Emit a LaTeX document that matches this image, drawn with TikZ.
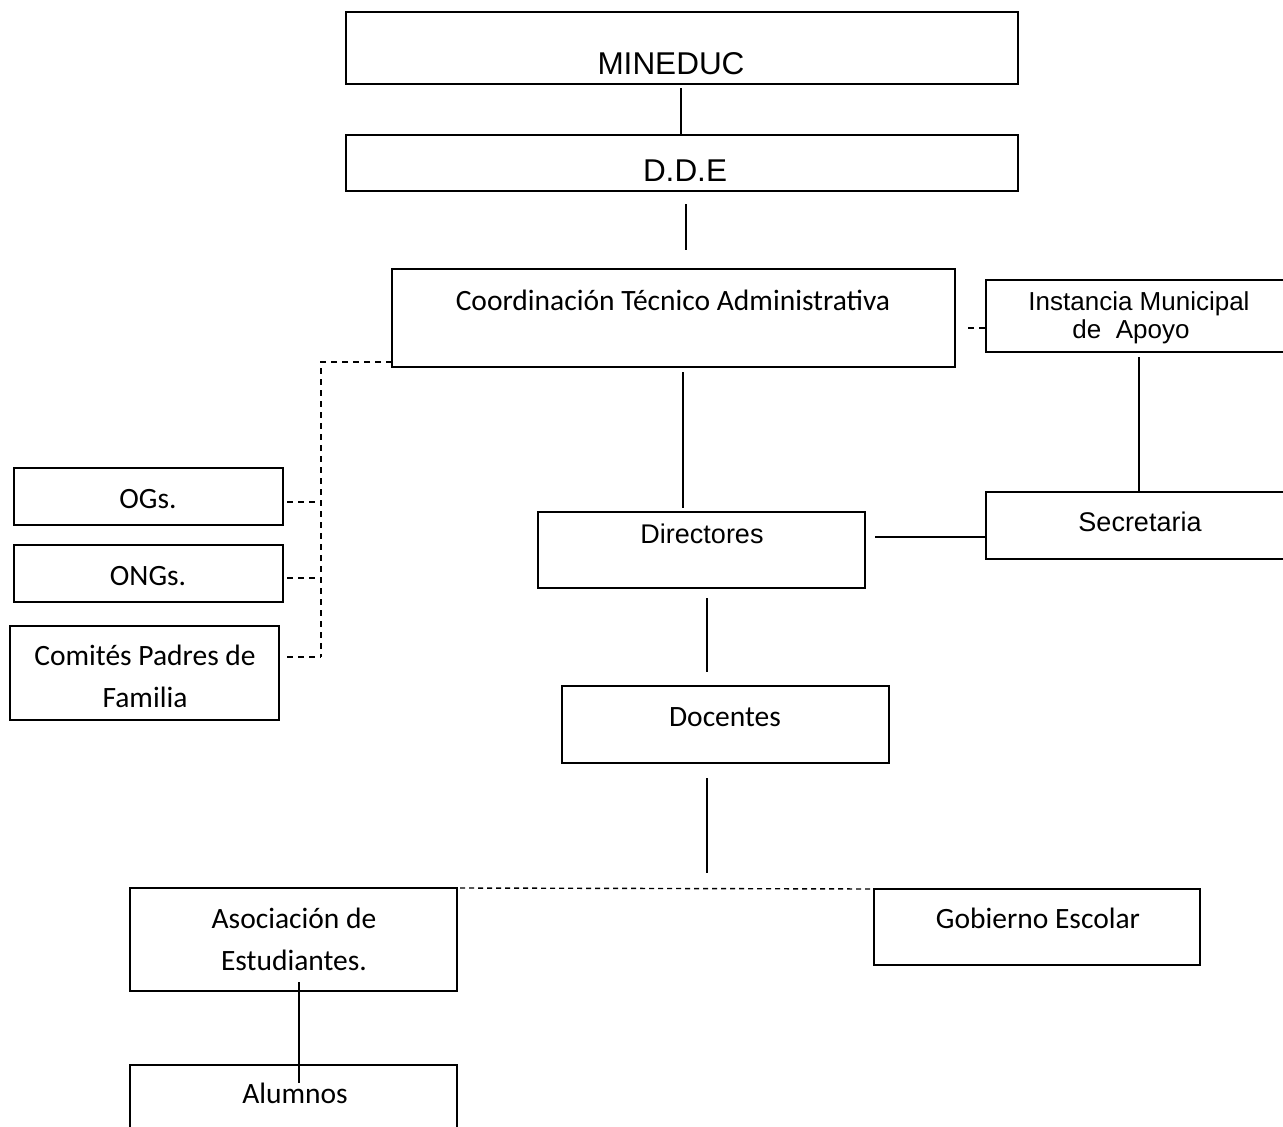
\documentclass[tikz,border=0pt]{standalone}
\usepackage{fontspec}
\setmainfont{Carlito}
\newfontfamily\arialfam{Liberation Sans}
\newcommand\ftbig{\arialfam\fontsize{31.5}{36}\selectfont}
\newcommand\ftar{\arialfam\fontsize{27}{30}\selectfont}
\newcommand\ftarb{\arialfam\fontsize{26}{30}\selectfont}
\newcommand\ftcal{\fontsize{29.5}{32}\selectfont}
\begin{document}
\begin{tikzpicture}[x=1pt,y=-1pt,
  box/.style={draw,line width=1.9pt,rectangle,outer sep=0pt,inner sep=0pt,anchor=north west},
  txt/.style={anchor=base,inner sep=0pt,outer sep=0pt},
  conn/.style={line width=1.4pt},
  dconn/.style={line width=1.4pt,dash pattern=on 6pt off 5pt},
  dconnb/.style={line width=1.4pt,dash pattern=on 5pt off 4pt}]
\useasboundingbox (0,0) rectangle (1283,1127);
\fill[white] (0,0) rectangle (1283,1127);
% boxes
\node[box,minimum width=672pt,minimum height=72pt] (mineduc) at (346,12) {};
\node[box,minimum width=672pt,minimum height=56pt] (dde) at (346,135) {};
\node[box,minimum width=563pt,minimum height=98pt] (coord) at (392,269) {};
\node[box,minimum width=310pt,minimum height=72pt] (inst) at (986,280) {};
\node[box,minimum width=310pt,minimum height=67pt] (secr) at (986,492) {};
\node[box,minimum width=327pt,minimum height=76pt] (dir) at (538,512) {};
\node[box,minimum width=327pt,minimum height=77pt] (doc) at (562,686) {};
\node[box,minimum width=269pt,minimum height=57pt] (ogs) at (14,468) {};
\node[box,minimum width=269pt,minimum height=57pt] (ongs) at (14,545) {};
\node[box,minimum width=269pt,minimum height=94pt] (com) at (10,626) {};
\node[box,minimum width=327pt,minimum height=103pt] (asoc) at (130,888) {};
\node[box,minimum width=326pt,minimum height=76pt] (gob) at (874,889) {};
\node[box,minimum width=327pt,minimum height=75pt] (alu) at (130,1065) {};
% texts
\node[txt,font=\ftbig] (tmin) at (671,74) {MINEDUC};
\node[txt,font=\ftbig] (tdde) at (685,181) {D.D.E};
\node[txt,font=\ftcal] (tcoord) at (673,310) {Coordinación Técnico Administrativa};
\node[txt,font=\ftarb] (tinst1) at (1139,310) {Instancia Municipal};
\node[txt,font=\ftarb] (tinst2) at (1131,338) {de\ \ Apoyo};
\node[txt,font=\ftar] (tsecr) at (1140,531) {Secretaria};
\node[txt,font=\ftar] (tdir) at (702,543) {Directores};
\node[txt,font=\ftcal] (tdoc) at (725,726) {Docentes};
\node[txt,font=\ftcal] (togs) at (148,508) {OGs.};
\node[txt,font=\ftcal] (tongs) at (148,585) {ONGs.};
\node[txt,font=\ftcal] (tcom1) at (145,665) {Comités Padres de};
\node[txt,font=\ftcal] (tcom2) at (145,707) {Familia};
\node[txt,font=\ftcal] (tasoc1) at (294,928) {Asociación de};
\node[txt,font=\ftcal] (tasoc2) at (294,970) {Estudiantes.};
\node[txt,font=\ftcal] (tgob) at (1038,928) {Gobierno Escolar};
\node[txt,font=\ftcal] (talu) at (295,1103) {Alumnos};
% connector end points
\coordinate (a1) at (681,88);   \coordinate (a2) at (681,134);
\coordinate (b1) at (686,204);  \coordinate (b2) at (686,250);
\coordinate (c1) at (683,372);  \coordinate (c2) at (683,508);
\coordinate (d1) at (1139,357);
\coordinate (e1) at (875,537);
\coordinate (f1) at (707,598);  \coordinate (f2) at (707,672);
\coordinate (g1) at (707,778);  \coordinate (g2) at (707,873);
\coordinate (h1) at (460,888);
\coordinate (k1) at (299,982);  \coordinate (k2) at (299,1083);
\coordinate (m1) at (968,328);
\coordinate (v1) at (321,362);  \coordinate (v2) at (321,657);
\coordinate (p1) at (287,502);  \coordinate (p2) at (287,578);  \coordinate (p3) at (287,657);
% solid connectors
\draw[conn] (a1) -- (a2);
\draw[conn] (b1) -- (b2);
\draw[conn] (c1) -- (c2);
\draw[conn] (d1) -- (secr.north -| d1);
\draw[conn] (e1) -- (secr.west |- e1);
\draw[conn] (f1) -- (f2);
\draw[conn] (g1) -- (g2);
\draw[conn] (k1) -- (k2);
% dashed connectors
\draw[dconn] (m1) -- (inst.west |- m1);
\draw[dconn] (coord.west |- v1) -- (v1) -- (v2);
\draw[dconn] (p1) -- (p1 -| v1);
\draw[dconn] (p2) -- (p2 -| v1);
\draw[dconn] (p3) -- (p3 -| v1);
\draw[dconnb] (h1) -- (gob.north west);
\end{tikzpicture}
\end{document}
